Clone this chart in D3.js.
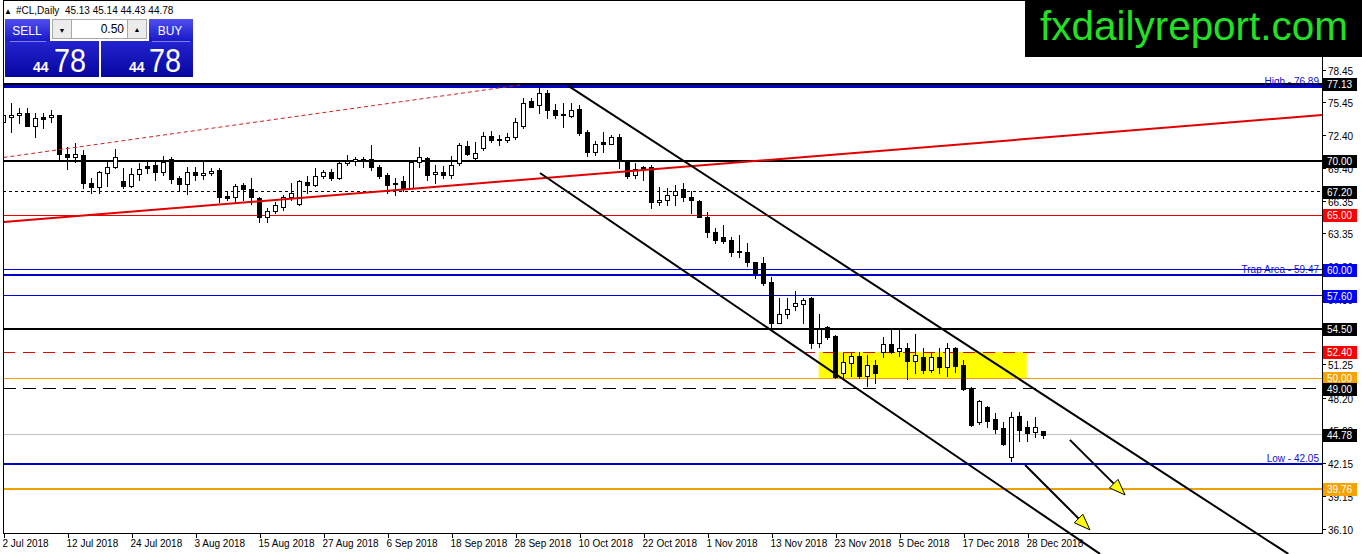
<!DOCTYPE html>
<html><head><meta charset="utf-8">
<script src="https://cdn.jsdelivr.net/npm/d3@7"></script>
<style>
body{margin:0;background:#fff;overflow:hidden;}
svg{display:block;}
text{font-family:"Liberation Sans",Arial,sans-serif;}
</style>
</head><body>
<svg id="chart" width="1362" height="554"></svg>
<script>
// ---------- DATA ----------
const opens  = [73.6,74.1,74.3,74.5,73.3,74.1,74.1,74.3,70.7,70.4,70.6,68.0,67.6,68.9,69.5,68.2,67.7,68.8,69.6,69.7,69.0,70.2,68.5,67.9,69.0,68.7,68.9,69.2,66.8,66.7,67.8,67.4,66.6,64.9,65.4,65.8,66.7,66.1,68.1,67.8,68.6,69.0,68.5,69.8,70.0,70.2,70.2,69.5,68.7,68.0,68.2,67.5,69.9,70.3,68.8,69.0,68.7,69.8,71.4,70.3,71.2,72.3,72.1,72.0,72.2,73.3,75.6,75.2,76.3,74.7,74.4,74.2,74.8,72.7,70.9,71.8,71.6,72.2,70.0,68.7,69.5,69.5,66.2,66.4,66.9,67.4,66.7,66.3,64.9,63.5,63.0,62.7,61.7,61.6,60.7,60.6,58.9,55.1,55.9,56.6,56.8,57.4,53.2,54.7,53.9,50.5,51.4,52.0,50.2,51.2,52.4,53.1,52.5,52.8,51.6,51.9,50.7,51.9,51.0,52.8,51.2,49.1,45.9,47.3,46.2,45.4,42.7,46.5,45.5,45.0,45.13];
const highs  = [74.5,75.4,74.9,74.9,74.5,74.5,74.7,74.3,71.3,71.7,71.0,68.5,69.1,70.1,71.1,69.4,69.4,69.8,69.9,69.9,70.5,70.4,68.6,69.5,69.5,69.9,69.4,69.4,67.3,67.9,68.0,68.5,66.7,65.7,66.2,66.9,68.0,68.3,68.6,69.4,69.2,69.3,70.0,70.6,70.4,70.4,71.5,69.7,68.9,68.5,68.6,70.0,71.3,70.4,69.7,69.6,70.5,71.7,71.9,71.8,72.7,72.8,72.4,72.6,74.0,75.8,75.8,76.9,76.6,75.3,75.4,75.4,75.2,72.9,71.9,72.7,72.4,72.5,70.1,69.8,69.6,69.7,67.6,67.5,67.8,68.0,67.3,66.4,65.3,63.8,64.1,63.0,63.2,62.5,60.7,61.2,59.3,57.4,57.4,58.0,57.4,57.5,55.9,54.8,54.0,52.3,52.3,52.4,52.1,51.7,53.8,54.4,54.4,53.2,54.1,52.8,52.3,52.8,53.2,52.9,51.7,49.2,48.0,47.4,46.8,45.9,46.9,46.9,46.0,46.4,45.14];
const lows   = [72.7,72.7,73.5,73.3,72.2,73.1,73.6,70.1,69.3,69.9,67.5,67.1,67.1,67.7,69.4,67.5,67.6,68.3,68.9,68.3,68.7,68.0,67.3,67.0,68.3,68.4,68.7,66.2,66.4,66.2,66.4,66.1,64.4,64.4,65.2,65.5,66.4,66.0,67.1,67.7,68.5,68.3,68.4,69.7,69.7,69.5,69.2,68.5,67.1,66.9,67.3,67.5,69.5,68.3,68.0,68.5,68.5,69.7,70.6,70.1,71.0,71.8,71.5,71.8,72.1,73.1,75.0,74.5,74.0,74.0,73.2,74.1,72.4,70.5,70.6,70.9,71.6,69.4,68.5,68.5,68.3,65.7,66.0,66.0,66.0,66.3,65.2,64.9,63.0,62.5,62.5,61.3,61.2,60.3,59.2,58.6,54.6,55.1,55.5,56.3,55.1,52.8,52.9,53.6,50.0,50.0,50.2,50.0,49.3,49.5,51.9,52.3,52.0,49.9,50.5,50.5,50.6,50.5,50.2,50.6,48.9,45.6,45.8,45.5,44.9,43.8,42.3,44.2,44.2,44.6,44.43];
const closes = [74.3,74.3,74.5,73.3,74.0,73.9,74.3,70.7,70.4,70.7,68.0,67.6,69.0,69.5,70.4,67.7,68.8,69.3,69.4,69.0,69.9,68.4,67.9,69.0,68.7,68.9,69.1,66.7,66.6,67.7,67.4,66.7,64.9,65.4,66.0,66.7,67.1,68.2,67.8,68.6,69.0,68.5,69.8,70.0,70.2,70.0,69.5,68.6,67.8,67.9,67.5,69.9,70.4,68.7,69.0,68.7,69.7,71.5,70.7,70.8,72.3,72.0,72.0,72.2,73.6,75.4,75.0,76.3,74.7,74.3,74.3,74.7,72.6,70.9,71.6,71.6,72.2,70.1,68.6,69.3,69.3,66.2,66.4,66.9,67.3,66.7,66.4,64.9,63.5,62.7,62.6,61.6,61.6,60.7,59.7,58.8,55.1,55.9,56.4,56.9,57.2,53.2,54.5,53.8,50.1,51.5,52.0,50.2,51.2,50.5,53.1,52.4,52.8,51.6,52.1,50.7,51.9,51.0,52.8,51.1,49.0,45.7,47.9,46.0,45.3,43.9,46.4,45.2,44.9,45.5,44.78];

const dateLabels = ["2 Jul 2018","12 Jul 2018","24 Jul 2018","3 Aug 2018","15 Aug 2018","27 Aug 2018","6 Sep 2018","18 Sep 2018","28 Sep 2018","10 Oct 2018","22 Oct 2018","1 Nov 2018","13 Nov 2018","23 Nov 2018","5 Dec 2018","17 Dec 2018","28 Dec 2018"];
const dateLabelBars = [0,8,16,24,32,40,48,56,64,72,80,88,96,104,112,120,128];

const priceTicks = [78.45,75.45,72.40,69.40,66.35,63.35,60.30,57.30,51.25,48.20,45.20,42.15,39.15,36.10];

const levelValues = [77.13,76.89,70.00,67.20,65.00,60.00,59.47,57.60,54.50,52.40,50.00,49.00,44.78,42.05,39.76];
const levelTexts  = {"76.89":"High - 76.89","59.47":"Trap Area - 59.47","42.05":"Low - 42.05"};
const boxValues   = [77.13,70.00,67.20,65.00,60.00,57.60,54.50,52.40,50.00,49.00,44.78,39.76];

// trend lines as [bar, price] endpoints
const redTrend     = [[0,64.4],[164.8,74.27]];
const redDashed    = [[0,70.35],[64.6,77.04]];
const channelUpper = [[70.6,76.95],[160.6,33.77]];
const channelLower = [[67.06,68.92],[137.06,33.77]];
const zoneBars     = [101.9,127.9];
const zonePrices   = [52.40,50.00];
const arrowsData   = [[[133.3,44.29],[140.2,39.21]],[[127.7,41.98],[135.8,35.99]]];

const header = ["#CL,Daily","45.13","45.14","44.43","44.78"];

// ---------- DRAW ----------
const svg = d3.select("#chart");
const W = 1362, H = 554;
const plotL = 3, plotR = 1322, plotT = 1, plotB = 533;

const x = d3.scaleLinear().domain([0,128]).range([3.5,1027.5]);
const y = d3.scaleLinear().domain([77.13,39.76]).range([84,489]);

svg.append("rect").attr("width",W).attr("height",H).attr("fill","#fff");

const defs = svg.append("defs");
defs.append("clipPath").attr("id","plotclip").append("rect")
  .attr("x",plotL).attr("y",plotT).attr("width",plotR-plotL).attr("height",plotB-plotT);
const g1 = defs.append("linearGradient").attr("id","btnGrad").attr("x1",0).attr("y1",0).attr("x2",0).attr("y2",1);
g1.append("stop").attr("offset","0%").attr("stop-color","#5050f0");
g1.append("stop").attr("offset","100%").attr("stop-color","#1818c8");
const g2 = defs.append("linearGradient").attr("id","boxGrad").attr("x1",0).attr("y1",0).attr("x2",0).attr("y2",1);
g2.append("stop").attr("offset","0%").attr("stop-color","#2424d0");
g2.append("stop").attr("offset","100%").attr("stop-color","#0606a0");

const plot = svg.append("g").attr("clip-path","url(#plotclip)");

// yellow zone (background)
plot.append("rect")
  .attr("x",x(zoneBars[0])).attr("width",x(zoneBars[1])-x(zoneBars[0]))
  .attr("y",y(zonePrices[0])).attr("height",y(zonePrices[1])-y(zonePrices[0]))
  .attr("fill","#ffff00");

// horizontal levels
const levelStyle = {
  "77.13":{c:"#000",w:2},
  "76.89":{c:"#0000c8",w:3},
  "70":{c:"#000",w:2},
  "67.2":{c:"#000",w:1,d:"3,3"},
  "65":{c:"#ee0000",w:1},
  "60":{c:"#0000e0",w:1},
  "59.47":{c:"#0000c8",w:2},
  "57.6":{c:"#0000e0",w:1},
  "54.5":{c:"#000",w:2},
  "52.4":{c:"#e00000",w:1,d:"12,8"},
  "50":{c:"#f0a000",w:1},
  "49":{c:"#000",w:1,d:"13,7"},
  "44.78":{c:"#c0c0c0",w:1},
  "42.05":{c:"#0000c8",w:2},
  "39.76":{c:"#f0a000",w:2}
};
levelValues.forEach(v=>{
  const s = levelStyle[String(v)];
  const yy = s.w%2 ? Math.floor(y(v))+0.5 : Math.round(y(v));
  plot.append("line").attr("x1",plotL).attr("x2",plotR).attr("y1",yy).attr("y2",yy)
    .attr("stroke",s.c).attr("stroke-width",s.w).attr("stroke-dasharray",s.d||null);
});

// level texts
Object.keys(levelTexts).forEach(k=>{
  const v = +k;
  svg.append("text").attr("x",1319).attr("y",Math.round(y(v))-2)
    .attr("text-anchor","end").attr("font-size",10).attr("fill","#1010d0").text(levelTexts[k]);
});

// candles
const bars = d3.range(closes.length);
const cg = plot.append("g").attr("shape-rendering","crispEdges");
bars.forEach(i=>{
  const cx = Math.round(x(i)-0.5)+0.5;
  const up = closes[i] >= opens[i];
  cg.append("line").attr("x1",cx).attr("x2",cx)
    .attr("y1",Math.round(y(highs[i]))).attr("y2",Math.round(y(lows[i]))+1)
    .attr("stroke","#000");
  const yt = Math.round(y(Math.max(opens[i],closes[i])))+0.5;
  const yb = Math.round(y(Math.min(opens[i],closes[i])))+0.5;
  cg.append("rect").attr("x",cx-2).attr("width",4)
    .attr("y",yt).attr("height",Math.max(0,yb-yt))
    .attr("fill",up?"#fff":"#000").attr("stroke","#000").attr("stroke-width",1);
});

// trend lines
const ln = d3.line().x(d=>x(d[0])).y(d=>y(d[1]));
plot.append("path").attr("d",ln(redTrend)).attr("stroke","#e00000").attr("stroke-width",2).attr("fill","none");
plot.append("path").attr("d",ln(redDashed)).attr("stroke","#d02020").attr("stroke-width",1).attr("stroke-dasharray","4,3").attr("fill","none");
svg.append("path").attr("d",ln(channelLower)).attr("stroke","#000").attr("stroke-width",2).attr("fill","none");
svg.append("path").attr("d",ln(channelUpper)).attr("stroke","#000").attr("stroke-width",2).attr("fill","none");

// arrows
arrowsData.forEach(a=>{
  const p0 = [x(a[0][0]),y(a[0][1])], p1 = [x(a[1][0]),y(a[1][1])];
  const ang = Math.atan2(p1[1]-p0[1],p1[0]-p0[0]);
  const L = 16, Wd = 6;
  const bx = p1[0]-L*Math.cos(ang), by = p1[1]-L*Math.sin(ang);
  svg.append("line").attr("x1",p0[0]).attr("y1",p0[1]).attr("x2",bx).attr("y2",by)
    .attr("stroke","#000").attr("stroke-width",2);
  const pts = [[p1[0],p1[1]],
    [bx+Wd*Math.sin(ang), by-Wd*Math.cos(ang)],
    [bx-Wd*Math.sin(ang), by+Wd*Math.cos(ang)]];
  svg.append("polygon").attr("points",pts.map(p=>p.join(",")).join(" "))
    .attr("fill","#ffff00").attr("stroke","#000").attr("stroke-width",1);
});

// frame / axes
svg.append("line").attr("x1",plotL+0.5).attr("x2",plotL+0.5).attr("y1",0).attr("y2",plotB).attr("stroke","#000").attr("shape-rendering","crispEdges");
svg.append("line").attr("x1",plotL).attr("x2",plotR).attr("y1",0.5).attr("y2",0.5).attr("stroke","#000").attr("shape-rendering","crispEdges");
svg.append("line").attr("x1",plotR+0.5).attr("x2",plotR+0.5).attr("y1",0).attr("y2",plotB+1).attr("stroke","#000").attr("shape-rendering","crispEdges");
svg.append("line").attr("x1",plotL).attr("x2",plotR+1).attr("y1",plotB+0.5).attr("y2",plotB+0.5).attr("stroke","#000").attr("shape-rendering","crispEdges");

// right axis ticks / labels
priceTicks.forEach(v=>{
  const yy = Math.round(y(v))+0.5;
  svg.append("line").attr("x1",plotR).attr("x2",plotR+4).attr("y1",yy).attr("y2",yy).attr("stroke","#000").attr("shape-rendering","crispEdges");
  svg.append("text").attr("x",1328).attr("y",yy+4).attr("font-size",10).attr("fill","#000").text(v.toFixed(2));
});

// bottom axis
dateLabels.forEach((t,k)=>{
  const xx = Math.round(x(dateLabelBars[k]))+0.5;
  svg.append("line").attr("x1",xx).attr("x2",xx).attr("y1",plotB).attr("y2",plotB+5).attr("stroke","#000").attr("shape-rendering","crispEdges");
  svg.append("text").attr("x",xx-2).attr("y",547).attr("font-size",10).attr("fill","#000").text(t);
});

// price boxes
const boxColor = {"77.13":"#000","70":"#000","67.2":"#000","65":"#ff0000","60":"#0000ff","57.6":"#0000ff","54.5":"#000","52.4":"#ff0000","50":"#f5a300","49":"#000","44.78":"#000","39.76":"#f5a300"};
boxValues.forEach(v=>{
  const yy = Math.round(y(v));
  svg.append("rect").attr("x",1323).attr("y",yy-6).attr("width",34).attr("height",13).attr("fill",boxColor[String(v)]);
  svg.append("text").attr("x",1327).attr("y",yy+4).attr("font-size",10).attr("fill","#fff").text(v.toFixed(2));
});

// header text
svg.append("text").attr("x",4).attr("y",14).attr("font-size",8).attr("fill","#000").text("\u25B2");
svg.append("text").attr("x",16).attr("y",14).attr("font-size",10).attr("fill","#000")
  .attr("xml:space","preserve").text(header[0]+"  "+header.slice(1).join(" "));

// one-click panel
const pnl = svg.append("g");
pnl.append("rect").attr("x",5).attr("y",19).attr("width",45).attr("height",22).attr("fill","url(#btnGrad)");
pnl.append("text").attr("x",27).attr("y",35).attr("text-anchor","middle").attr("font-size",12).attr("fill","#fff").text("SELL");
pnl.append("rect").attr("x",149).attr("y",19).attr("width",44).attr("height",22).attr("fill","url(#btnGrad)");
pnl.append("text").attr("x",170).attr("y",35).attr("text-anchor","middle").attr("font-size",12).attr("fill","#fff").text("BUY");
pnl.append("rect").attr("x",52.5).attr("y",19.5).attr("width",19).attr("height",19).attr("fill","#ececec").attr("stroke","#a8a8a8");
pnl.append("text").attr("x",62).attr("y",33).attr("text-anchor","middle").attr("font-size",7).attr("fill","#000").text("\u25BC");
pnl.append("rect").attr("x",71.5).attr("y",19.5).attr("width",56).attr("height",19).attr("fill","#fff").attr("stroke","#a8a8a8");
pnl.append("text").attr("x",124).attr("y",33).attr("text-anchor","end").attr("font-size",12).attr("fill","#000").text("0.50");
pnl.append("rect").attr("x",127.5).attr("y",19.5).attr("width",19).attr("height",19).attr("fill","#ececec").attr("stroke","#a8a8a8");
pnl.append("text").attr("x",137).attr("y",32).attr("text-anchor","middle").attr("font-size",7).attr("fill","#000").text("\u25B2");
pnl.append("rect").attr("x",5).attr("y",41).attr("width",94).attr("height",36).attr("fill","url(#boxGrad)");
pnl.append("rect").attr("x",101).attr("y",41).attr("width",92).attr("height",36).attr("fill","url(#boxGrad)");
pnl.append("line").attr("x1",10).attr("x2",46).attr("y1",41.5).attr("y2",41.5).attr("stroke","#8080e0");
pnl.append("line").attr("x1",152).attr("x2",190).attr("y1",41.5).attr("y2",41.5).attr("stroke","#8080e0");
pnl.append("text").attr("x",33).attr("y",72).attr("font-size",14).attr("font-weight","bold").attr("fill","#fff").text("44");
pnl.append("text").attr("x",54).attr("y",72).attr("font-size",34).attr("fill","#fff").attr("textLength",32).attr("lengthAdjust","spacingAndGlyphs").text("78");
pnl.append("text").attr("x",129).attr("y",72).attr("font-size",14).attr("font-weight","bold").attr("fill","#fff").text("44");
pnl.append("text").attr("x",149).attr("y",72).attr("font-size",34).attr("fill","#fff").attr("textLength",32).attr("lengthAdjust","spacingAndGlyphs").text("78");

// logo
svg.append("rect").attr("x",1025).attr("y",0).attr("width",337).attr("height",57).attr("fill","#000");
svg.append("text").attr("x",1040).attr("y",40).attr("font-size",40).attr("fill","#22e022")
  .attr("textLength",308).attr("lengthAdjust","spacingAndGlyphs").text("fxdailyreport.com");
</script>
</body></html>
